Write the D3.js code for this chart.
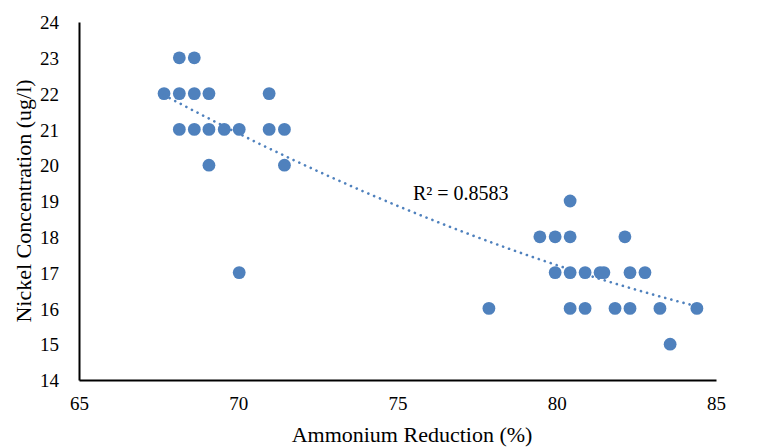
<!DOCTYPE html>
<html>
<head>
<meta charset="utf-8">
<script src="https://cdn.jsdelivr.net/npm/d3@7"></script>
<style>
  html, body { margin: 0; padding: 0; background: #fff; }
  text { font-family: "Liberation Serif", "Times New Roman", serif; fill: #000; }
</style>
</head>
<body>
<svg id="chart" width="758" height="448"></svg>
<script>
// Data
const ammonium = [68.15, 68.62,
  67.67, 68.15, 68.62, 69.08, 70.97,
  68.15, 68.62, 69.08, 69.56, 70.03, 70.97, 71.45,
  69.08, 71.45,
  70.03,
  77.87, 80.42, 80.89, 81.83, 82.30, 83.24, 84.40,
  79.95, 80.42, 80.89, 81.36, 81.48, 82.30, 82.77,
  79.47, 79.95, 80.42, 82.14,
  80.42,
  83.56];
const nickel = [23, 23,
  22, 22, 22, 22, 22,
  21, 21, 21, 21, 21, 21, 21,
  20, 20,
  17,
  16, 16, 16, 16, 16, 16, 16,
  17, 17, 17, 17, 17, 17, 17,
  18, 18, 18, 18,
  19,
  15];
const xTicks = [65, 70, 75, 80, 85];
const yTicks = [14, 15, 16, 17, 18, 19, 20, 21, 22, 23, 24];
const xTitle = "Ammonium Reduction (%)";
const yTitle = "Nickel Concentration (ug/l)";
const rSquaredLabel = "R² = 0.8583";

const svg = d3.select("#chart");
const x = d3.scaleLinear().domain([65, 85]).range([79, 716]);
const y = d3.scaleLinear().domain([14, 24]).range([380, 22]);
const blue = "#4F81BD";

// Axes
const xAxis = d3.axisBottom(x).tickValues(xTicks).tickSize(0).tickPadding(17).tickFormat(d3.format("d"));
const yAxis = d3.axisLeft(y).tickValues(yTicks).tickSize(0).tickPadding(20).tickFormat(d3.format("d"));

const gx = svg.append("g").attr("transform", "translate(0,380)").call(xAxis);
const gy = svg.append("g").attr("transform", "translate(79,0)").call(yAxis);
[gx, gy].forEach(g => {
  g.select(".domain").attr("stroke", "#000").attr("stroke-width", 2);
  g.selectAll("text").attr("font-size", 19).attr("font-family", "Liberation Serif").attr("fill", "#000");
});
gy.selectAll(".tick text").attr("dy", "0.35em");

// Quadratic trendline (least squares, like Excel's polynomial order 2)
function quadFit(xs, ys) {
  const n = xs.length;
  let s = [0, 0, 0, 0, 0], t = [0, 0, 0];
  for (let i = 0; i < n; i++) {
    const xi = xs[i], yi = ys[i];
    for (let k = 0; k < 5; k++) s[k] += Math.pow(xi, k);
    for (let k = 0; k < 3; k++) t[k] += yi * Math.pow(xi, k);
  }
  const A = [[s[0], s[1], s[2], t[0]], [s[1], s[2], s[3], t[1]], [s[2], s[3], s[4], t[2]]];
  for (let c = 0; c < 3; c++) {
    let p = c;
    for (let r = c + 1; r < 3; r++) if (Math.abs(A[r][c]) > Math.abs(A[p][c])) p = r;
    [A[c], A[p]] = [A[p], A[c]];
    for (let r = 0; r < 3; r++) {
      if (r === c) continue;
      const f = A[r][c] / A[c][c];
      for (let k = c; k < 4; k++) A[r][k] -= f * A[c][k];
    }
  }
  return [A[0][3] / A[0][0], A[1][3] / A[1][1], A[2][3] / A[2][2]];
}
const coef = quadFit(ammonium, nickel);
const xmin = d3.min(ammonium), xmax = d3.max(ammonium);
const trendPts = d3.range(0, 101).map(i => {
  const xv = xmin + (xmax - xmin) * i / 100;
  return [xv, coef[0] + coef[1] * xv + coef[2] * xv * xv];
});

// Points
const pts = ammonium.map((a, i) => ({ a, n: nickel[i] }));
svg.append("g").selectAll("circle").data(pts).join("circle")
  .attr("cx", d => x(d.a)).attr("cy", d => y(d.n)).attr("r", 6.4)
  .attr("fill", blue);

svg.append("path")
  .datum(trendPts)
  .attr("fill", "none")
  .attr("stroke", blue)
  .attr("stroke-width", 2.6)
  .attr("stroke-linecap", "round")
  .attr("stroke-dasharray", "0.1 6.2")
  .attr("d", d3.line().x(d => x(d[0])).y(d => y(d[1])));

// R² label
svg.append("text").attr("x", 413).attr("y", 200).attr("font-size", 20).text(rSquaredLabel);

// Titles
svg.append("text").attr("x", 412).attr("y", 442).attr("text-anchor", "middle").attr("font-size", 22).text(xTitle);
svg.append("text").attr("transform", "translate(31,201) rotate(-90)").attr("text-anchor", "middle").attr("font-size", 22).text(yTitle);
</script>
</body>
</html>
